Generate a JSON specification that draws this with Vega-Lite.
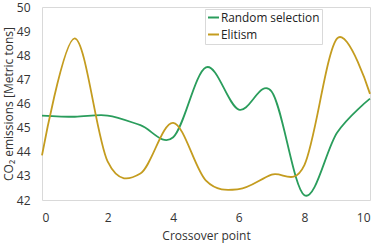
{
  "$schema": "https://vega.github.io/schema/vega-lite/v6.json",
  "width": 328,
  "height": 193,
  "autosize": {"type": "none"},
  "padding": {"left": 42, "top": 7, "right": 8, "bottom": 46},
  "config": {
    "font": "Open Sans",
    "view": {"stroke": "#d9d9d9", "strokeWidth": 1},
    "axis": {"labelFont": "Open Sans", "titleFont": "Open Sans", "labelFontSize": 12, "titleFontSize": 12, "labelColor": "#333333", "titleColor": "#333333", "titleFontWeight": "normal", "grid": false, "domain": false, "ticks": false}
  },
  "data": {
    "values": [
      {"x": 0, "y": 45.5, "s": "Random selection"},
      {"x": 1, "y": 45.45, "s": "Random selection"},
      {"x": 2, "y": 45.5, "s": "Random selection"},
      {"x": 3, "y": 45.1, "s": "Random selection"},
      {"x": 4, "y": 44.6, "s": "Random selection"},
      {"x": 5, "y": 47.5, "s": "Random selection"},
      {"x": 6, "y": 45.75, "s": "Random selection"},
      {"x": 7, "y": 46.5, "s": "Random selection"},
      {"x": 8, "y": 42.2, "s": "Random selection"},
      {"x": 9, "y": 44.8, "s": "Random selection"},
      {"x": 10, "y": 46.2, "s": "Random selection"},
      {"x": 0, "y": 43.85, "s": "Elitism"},
      {"x": 1, "y": 48.7, "s": "Elitism"},
      {"x": 2, "y": 43.6, "s": "Elitism"},
      {"x": 3, "y": 43.1, "s": "Elitism"},
      {"x": 4, "y": 45.2, "s": "Elitism"},
      {"x": 5, "y": 42.8, "s": "Elitism"},
      {"x": 6, "y": 42.45, "s": "Elitism"},
      {"x": 7, "y": 43.05, "s": "Elitism"},
      {"x": 8, "y": 43.45, "s": "Elitism"},
      {"x": 9, "y": 48.7, "s": "Elitism"},
      {"x": 10, "y": 46.4, "s": "Elitism"}
    ]
  },
  "mark": {"type": "line", "interpolate": "cardinal", "tension": 0, "strokeWidth": 1.8},
  "encoding": {
    "x": {"field": "x", "type": "quantitative", "scale": {"domain": [0, 10], "nice": false}, "axis": {"values": [0, 2, 4, 6, 8, 10], "title": "Crossover point", "labelPadding": 12, "titlePadding": 7}},
    "y": {"field": "y", "type": "quantitative", "scale": {"domain": [42, 50], "nice": false, "zero": false}, "axis": {"values": [42, 43, 44, 45, 46, 47, 48, 49, 50], "title": "CO₂ emissions [Metric tons]", "labelPadding": 12, "titlePadding": 1}},
    "color": {"field": "s", "type": "nominal", "sort": ["Random selection", "Elitism"],
      "scale": {"domain": ["Random selection", "Elitism"], "range": ["#2a9d5c", "#c49c1f"]},
      "legend": {"title": null, "orient": "none", "legendX": 163, "legendY": 2, "symbolType": "stroke", "symbolSize": 120, "symbolStrokeWidth": 2, "labelFontSize": 11.8, "labelFont": "Open Sans", "labelColor": "#222222", "strokeColor": "#d9d9d9", "padding": 2, "rowPadding": 3, "labelOffset": 1, "fillColor": "white"}
    }
  }
}
